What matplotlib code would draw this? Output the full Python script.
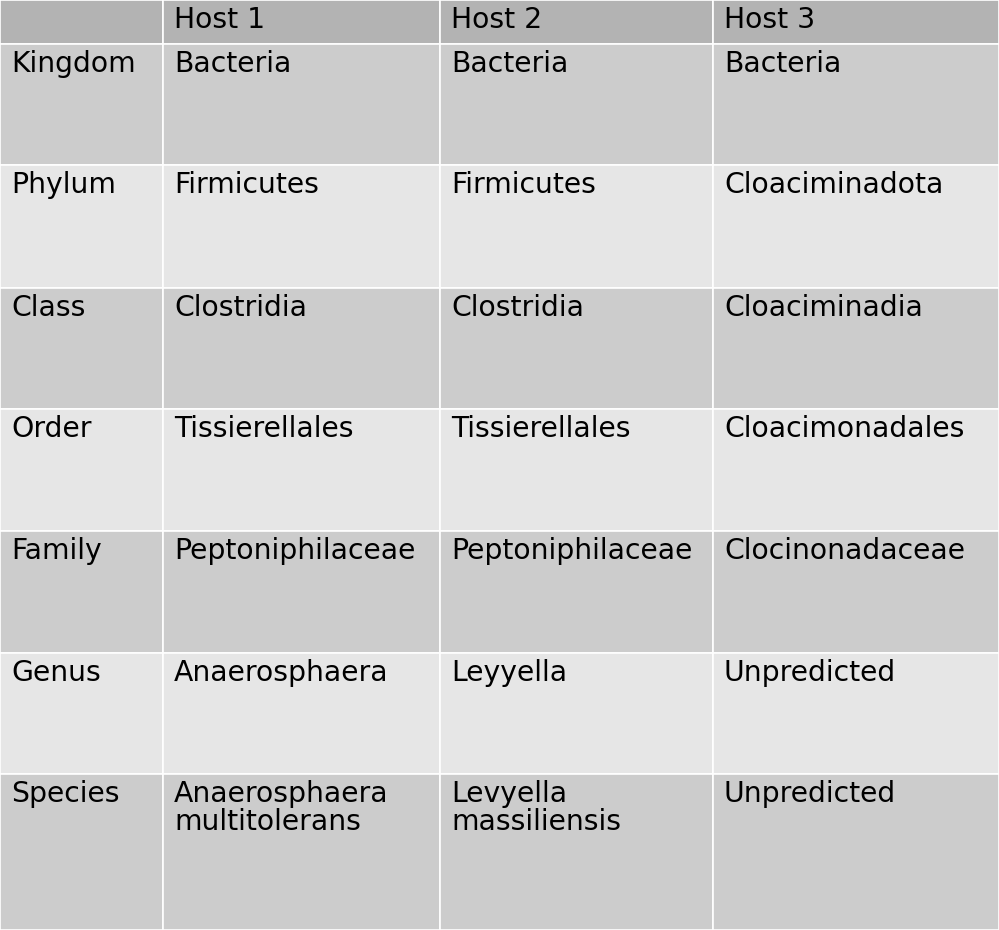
import matplotlib
matplotlib.use('Agg')
from matplotlib import pyplot as plt
from matplotlib.patches import Rectangle

headers = ['', 'Host 1', 'Host 2', 'Host 3']
ranks = ['Kingdom', 'Phylum', 'Class', 'Order', 'Family', 'Genus', 'Species']
host1 = ['Bacteria', 'Firmicutes', 'Clostridia', 'Tissierellales',
         'Peptoniphilaceae', 'Anaerosphaera', 'Anaerosphaera\nmultitolerans']
host2 = ['Bacteria', 'Firmicutes', 'Clostridia', 'Tissierellales',
         'Peptoniphilaceae', 'Leyyella', 'Levyella\nmassiliensis']
host3 = ['Bacteria', 'Cloaciminadota', 'Cloaciminadia', 'Cloacimonadales',
         'Clocinonadaceae', 'Unpredicted', 'Unpredicted']

col_x = [0, 163, 440, 713, 999]
row_y = [0, 44, 165, 288, 409, 531, 653, 774, 930]

fig = plt.figure(figsize=(9.99, 9.30), dpi=100)
ax = fig.add_axes([0, 0, 1, 1])
ax.set_xlim(0, 999)
ax.set_ylim(930, 0)
ax.axis('off')

rows = [headers] + [[r, a, b, c] for r, a, b, c in zip(ranks, host1, host2, host3)]
for i, row in enumerate(rows):
    if i == 0:
        color = '#b3b3b3'
    elif i % 2 == 1:
        color = '#cccccc'
    else:
        color = '#e6e6e6'
    y0, y1 = row_y[i], row_y[i + 1]
    for j, txt in enumerate(row):
        x0, x1 = col_x[j], col_x[j + 1]
        ax.add_patch(Rectangle((x0, y0), x1 - x0, y1 - y0, facecolor=color,
                               edgecolor='white', linewidth=1.2))
        ax.text(x0 + 11, y0 + 6, txt, fontsize=20.3, va='top', ha='left',
                color='black', linespacing=1.0)

fig.savefig('out.png', dpi=100)
